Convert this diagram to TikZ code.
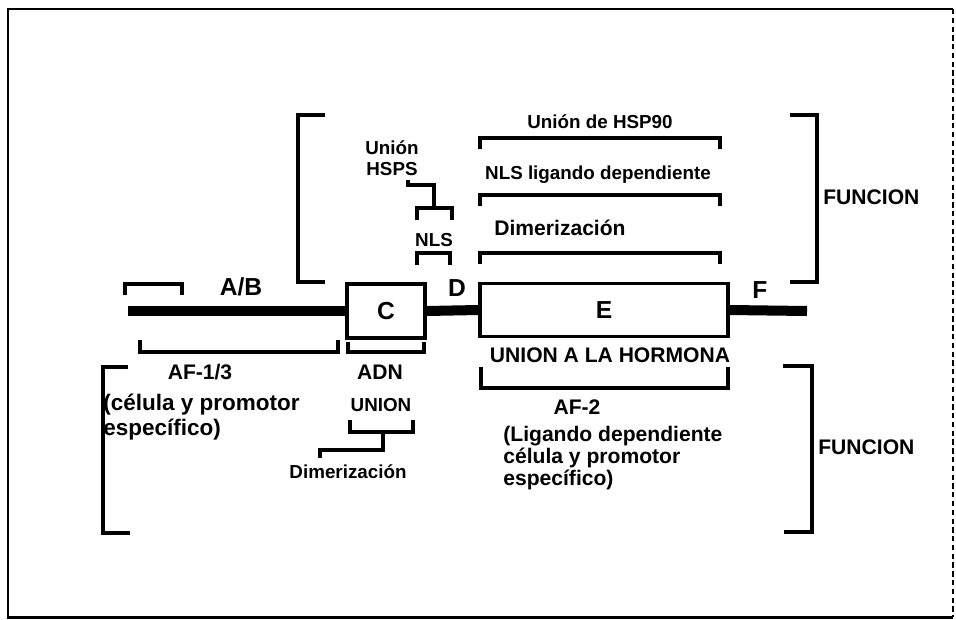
\documentclass[tikz,border=0pt]{standalone}
\usepackage{fontspec}
\setmainfont{Liberation Sans}
\usetikzlibrary{positioning}

\begin{document}
\begin{tikzpicture}[x=0.02cm, y=-0.02cm,
  every node/.style={inner sep=0pt, font=\bfseries},
  lbl/.style={font=\bfseries\fontsize{10.7}{12}\selectfont},
  mid/.style={font=\bfseries\fontsize{12}{14}\selectfont},
  letter/.style={font=\bfseries\fontsize{14}{16}\selectfont},
  dombox/.style={draw, line width=1.8pt, fill=white, letter},
  brk/.style={line width=2pt},
  bigbrk/.style={line width=2.3pt},
  bar/.style={line width=5.7pt}
]
\useasboundingbox (0,0) rectangle (956,619);
\draw[line width=1.7pt] (953,9) -- (8,9) -- (8,617) -- (953,617);
\draw[densely dashed, line width=0.6pt] (953,9) -- (953,617);

\node[dombox, minimum width=1.56cm, minimum height=1.08cm] (C) at (386,311) {C};
\node[dombox, minimum width=4.96cm, minimum height=1.06cm] (E) at (604,310) {E};
\coordinate (start) at (128,311);
\coordinate (end) at (807,311);
\draw[bar] (start) -- (C.west);
\draw[bar] (C.east) -- (E.west);
\draw[bar] (E.east) -- (end);

\node[letter] (ab) at (241,287) {A/B};
\node[letter] (d) at (457,288) {D};
\node[letter] (f) at (760,290) {F};

\node[lbl, align=center] (hsps) at (392,158) {Unión\\HSPS};
\node[lbl] (nls) at (434,240) {NLS};
\node[lbl] (hsp90) at (600,122) {Unión de HSP90};
\node[lbl] (nlslig) at (598,175) {NLS ligando dependiente};
\node[mid] (dimer) at (560,228) {Dimerización};
\node[mid, anchor=west] (func1) at (823,197) {FUNCION};

\node[mid] (hormona) at (610,355) {UNION A LA HORMONA};
\node[mid] (af13) at (200,372) {AF-1/3};
\node[mid] (adn) at (380,372) {ADN};
\node[mid, align=left, anchor=north west, font=\bfseries\fontsize{12.8}{14}\selectfont] (cel1) at (103,394) {(célula y promotor\\específico)};
\node[lbl] (union) at (381,405) {UNION};
\node[lbl] (dimer2) at (348,472) {Dimerización};
\node[mid] (af2) at (577,407) {AF-2};
\node[mid, align=left, anchor=north west, font=\bfseries\fontsize{12}{12.5}\selectfont] (cel2) at (503,426) {(Ligando dependiente\\célula y promotor\\específico)};
\node[mid, anchor=west] (func2) at (818,447) {FUNCION};

\draw[brk] (125,295) -- (125,284) -- (182,284) -- (182,295);
\draw[brk] (140,340) -- (140,352) -- (338,352) -- (338,340);
\draw[brk] (348,342) -- (348,352) -- (424,352) -- (424,342);
\draw[brk] (350,420) -- (350,432) -- (413,432) -- (413,420);
\draw[brk] (383,432) -- (383,450) -- (320,450) -- (320,458);
\draw[brk] (408,180) -- (408,185) -- (434,185) -- (434,208);
\draw[brk] (417,220) -- (417,208) -- (452,208) -- (452,220);
\draw[brk] (417,265) -- (417,253) -- (450,253) -- (450,265);
\foreach \y in {138,195,253}
  \draw[brk] (480,\y+11) -- (480,\y) -- (720,\y) -- (720,\y+11);
\draw[brk] (481,367) -- (481,388) -- (728,388) -- (728,367);

\draw[bigbrk] (325,115) -- (298,115) -- (298,282) -- (325,282);
\draw[bigbrk] (790,115) -- (817,115) -- (817,282) -- (790,282);
\draw[bigbrk] (128,367) -- (103,367) -- (103,533) -- (130,533);
\draw[bigbrk] (783,366) -- (812,366) -- (812,532) -- (784,532);

\end{tikzpicture}
\end{document}
